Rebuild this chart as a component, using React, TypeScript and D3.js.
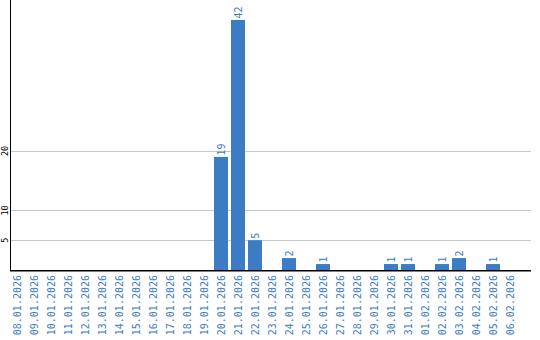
import React from "react";
import * as d3 from "d3";

const categories = [
  "08.01.2026","09.01.2026","10.01.2026","11.01.2026","12.01.2026","13.01.2026",
  "14.01.2026","15.01.2026","16.01.2026","17.01.2026","18.01.2026","19.01.2026",
  "20.01.2026","21.01.2026","22.01.2026","23.01.2026","24.01.2026","25.01.2026",
  "26.01.2026","27.01.2026","28.01.2026","29.01.2026","30.01.2026","31.01.2026",
  "01.02.2026","02.02.2026","03.02.2026","04.02.2026","05.02.2026","06.02.2026",
];
const values = [0,0,0,0,0,0,0,0,0,0,0,0,19,42,5,0,2,0,1,0,0,0,1,1,0,1,2,0,1,0];
const yTicks = [5, 10, 20];

const W = 540, H = 340;
const BLUE = "#3b7cc4";
const FONT = "'DejaVu Sans Mono', monospace";

export default function App() {
  const x = d3.scaleBand<string>().domain(categories).range([10, 517]).paddingInner(3 / 17).paddingOuter(0);
  const y = d3.scaleLinear().domain([0, 42]).range([270, 20]);
  return (
    <svg width={W} height={H} style={{ position: "absolute", left: 0, top: 0, background: "#fff" }}>
      {yTicks.map((t) => (
        <g key={t}>
          <line x1={11} x2={531} y1={Math.round(y(t)) + 0.5} y2={Math.round(y(t)) + 0.5} stroke="#c8c8c8" strokeWidth={1} />
          <text transform={`translate(5,${y(t)}) rotate(-90)`} textAnchor="middle" dy="0.35em" fontFamily={FONT} fontSize={8.5} fill="#000">{t}</text>
        </g>
      ))}
      {categories.map((c, i) => {
        const v = values[i];
        const bx = x(c)!;
        const cx = bx + x.bandwidth() / 2;
        return (
          <g key={c}>
            {v > 0 && (
              <>
                <rect x={bx} y={y(v)} width={x.bandwidth()} height={y(0) - y(v)} fill={BLUE} />
                <text transform={`translate(${cx},${y(v) - 1.5}) rotate(-90)`} textAnchor="start" dy="0.35em" fontFamily={FONT} fontSize={10} fill={BLUE}>{v}</text>
              </>
            )}
            <text transform={`translate(${cx},275) rotate(-90)`} textAnchor="end" dy="0.35em" fontFamily={FONT} fontSize={10} fill={BLUE}>{c}</text>
          </g>
        );
      })}
      <line x1={10.5} x2={10.5} y1={0} y2={271} stroke="#000" strokeWidth={1} />
      <line x1={10} x2={531} y1={270.75} y2={270.75} stroke="#000" strokeWidth={1.5} />
    </svg>
  );
}
